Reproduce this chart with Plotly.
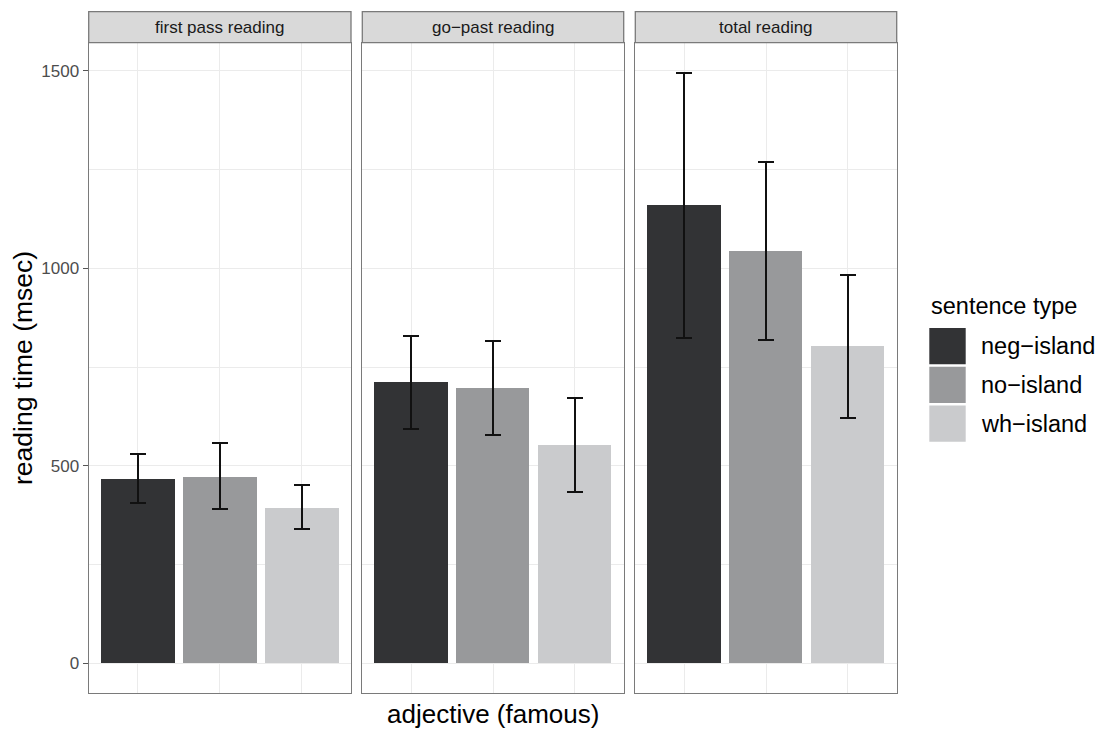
import plotly.graph_objects as go

W, H = 1098, 729

panels = ["first pass reading", "go\u2212past reading", "total reading"]
sentence_types = ["neg\u2212island", "no\u2212island", "wh\u2212island"]
type_colors = ["#323335", "#98999b", "#cacbcd"]

first_pass_mean = [466, 473, 394]
first_pass_upper = [529, 558, 451]
first_pass_lower = [405, 390, 339]

go_past_mean = [711, 697, 552]
go_past_upper = [829, 817, 671]
go_past_lower = [594, 578, 434]

total_mean = [1159, 1043, 802]
total_upper = [1495, 1268, 984]
total_lower = [823, 818, 620]

y_tick_vals = [0, 500, 1000, 1500]
y_tick_text = ["0", "500", "1000", "1500"]

means = [first_pass_mean, go_past_mean, total_mean]
uppers = [first_pass_upper, go_past_upper, total_upper]
lowers = [first_pass_lower, go_past_lower, total_lower]

FONT = "Liberation Sans, Arial, Helvetica, sans-serif"
BORDER = "#7a7a7a"
GRID = "#ebebeb"

# pixel layout
panel_px = [(88.7, 351.0), (362.3, 623.7), (635.3, 896.7)]
panel_top, panel_bot = 43.0, 693.0
strip_top, strip_bot = 11.7, 42.7

def px_x(v):
    return v / W

def px_y(v):
    return 1 - v / H

ymax = max(max(u) for u in uppers)
pad = 0.05 * ymax
y_range = [-pad, ymax + pad]

fig = go.Figure()
shapes = []
annotations = []

for i, name in enumerate(panels):
    sfx = "" if i == 0 else str(i + 1)
    xs = [1, 2, 3]
    err_plus = [u - m for u, m in zip(uppers[i], means[i])]
    err_minus = [m - l for m, l in zip(means[i], lowers[i])]
    fig.add_trace(go.Bar(
        x=xs, y=means[i], width=0.9,
        marker=dict(color=type_colors, line=dict(width=0)),
        error_y=dict(type="data", symmetric=False, array=err_plus,
                     arrayminus=err_minus, color="#111111",
                     thickness=2, width=8),
        xaxis="x" + sfx, yaxis="y" + sfx, showlegend=False,
        hoverinfo="skip",
    ))
    x0, x1 = panel_px[i]
    xa = dict(domain=[px_x(x0), px_x(x1)], range=[0.4, 3.6],
              tickvals=[1, 2, 3], showticklabels=False, ticks="",
              showgrid=True, gridcolor=GRID, gridwidth=1.3,
              zeroline=False, showline=True, mirror=True,
              linecolor=BORDER, linewidth=1.3, anchor="y" + sfx,
              fixedrange=True)
    ya = dict(domain=[px_y(panel_bot), px_y(panel_top)], range=y_range,
              tickvals=y_tick_vals, ticktext=y_tick_text,
              showgrid=True, gridcolor=GRID, gridwidth=1.3,
              minor=dict(dtick=250, tick0=0, showgrid=True,
                         gridcolor=GRID, gridwidth=0.8, ticks=""),
              zeroline=False, showline=True, mirror=True,
              linecolor=BORDER, linewidth=1.3, anchor="x" + sfx,
              fixedrange=True)
    if i == 0:
        ya.update(ticks="outside", ticklen=5, tickwidth=1.2,
                  tickcolor="#555555", showticklabels=True,
                  tickfont=dict(family=FONT, size=17, color="#4d4d4d"))
    else:
        ya.update(ticks="", showticklabels=False)
    fig.update_layout(**{"xaxis" + sfx: xa, "yaxis" + sfx: ya})

    shapes.append(dict(type="rect", xref="paper", yref="paper",
                       x0=px_x(x0), x1=px_x(x1),
                       y0=px_y(strip_bot), y1=px_y(strip_top),
                       fillcolor="#d9d9d9", line=dict(color=BORDER, width=1.3),
                       layer="above"))
    annotations.append(dict(text=name, xref="paper", yref="paper",
                            x=px_x((x0 + x1) / 2), y=px_y((strip_top + strip_bot) / 2),
                            xanchor="center", yanchor="middle", showarrow=False,
                            font=dict(family=FONT, size=17, color="#1a1a1a")))

# axis titles
annotations.append(dict(text="adjective (famous)", xref="paper", yref="paper",
                        x=px_x((panel_px[0][0] + panel_px[2][1]) / 2), y=px_y(714),
                        xanchor="center", yanchor="middle", showarrow=False,
                        font=dict(family=FONT, size=26, color="#000000")))
annotations.append(dict(text="reading time (msec)", xref="paper", yref="paper",
                        x=px_x(23), y=px_y((panel_top + panel_bot) / 2),
                        xanchor="center", yanchor="middle", showarrow=False,
                        textangle=-90,
                        font=dict(family=FONT, size=26.5, color="#000000")))

# legend (drawn manually to match ggplot keys)
key_x0, key_x1 = 929.3, 965.7
key_start, key_step, key_h = 328.0, 38.8, 36.2
annotations.append(dict(text="sentence type", xref="paper", yref="paper",
                        x=px_x(929.0), y=px_y(306),
                        xanchor="left", yanchor="middle", showarrow=False,
                        font=dict(family=FONT, size=23.5, color="#000000")))
for k, (lab, col) in enumerate(zip(sentence_types, type_colors)):
    ky0 = key_start + k * key_step
    shapes.append(dict(type="rect", xref="paper", yref="paper",
                       x0=px_x(key_x0), x1=px_x(key_x1),
                       y0=px_y(ky0 + key_h), y1=px_y(ky0),
                       fillcolor=col, line=dict(width=0)))
    annotations.append(dict(text=lab, xref="paper", yref="paper",
                            x=px_x(978.5), y=px_y(ky0 + key_h / 2),
                            xanchor="left", yanchor="middle", showarrow=False,
                            font=dict(family=FONT, size=23.5, color="#000000")))

fig.update_layout(
    width=W, height=H, autosize=False,
    margin=dict(l=0, r=0, t=0, b=0, pad=0),
    paper_bgcolor="white", plot_bgcolor="white",
    bargap=0, showlegend=False,
    shapes=shapes, annotations=annotations,
    font=dict(family=FONT),
)

fig.write_html("out.html", config={"displayModeBar": False},
               post_script="document.body.style.margin='0';document.body.style.overflow='hidden';")
